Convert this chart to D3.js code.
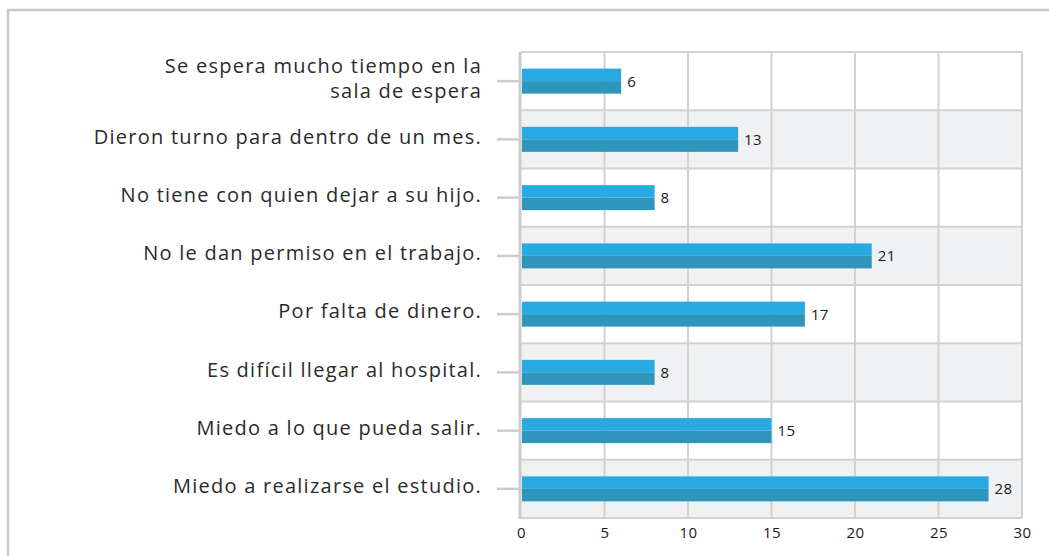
<!DOCTYPE html>
<html>
<head>
<meta charset="utf-8">
<script src="https://cdn.jsdelivr.net/npm/d3@7"></script>
<style>
  html, body { margin: 0; padding: 0; background: #fff; }
  svg { display: block; font-family: "Open Sans", sans-serif; }
</style>
</head>
<body>
<script>
"use strict";

const categories = [
  ["Se espera mucho tiempo en la", "sala de espera"],
  ["Dieron turno para dentro de un mes."],
  ["No tiene con quien dejar a su hijo."],
  ["No le dan permiso en el trabajo."],
  ["Por falta de dinero."],
  ["Es difícil llegar al hospital."],
  ["Miedo a lo que pueda salir."],
  ["Miedo a realizarse el estudio."]
];
const values = [6, 13, 8, 21, 17, 8, 15, 28];
const xTicks = [0, 5, 10, 15, 20, 25, 30];

const m = { width: 1049, height: 556, left: 521, right: 1022, top: 52, bottom: 518 };

const svg = d3
  .select("body")
  .append("svg")
  .attr("width", m.width)
  .attr("height", m.height);

// outer frame (only top and left edges visible)
svg.append("rect")
  .attr("x", 8)
  .attr("y", 10)
  .attr("width", 1100)
  .attr("height", 600)
  .attr("fill", "none")
  .attr("stroke", "#c9c9c9")
  .attr("stroke-width", 2.5);

const x = d3.scaleLinear().domain([0, 30]).range([m.left, m.right]);
const y = d3.scaleBand().domain(d3.range(categories.length)).range([m.top, m.bottom]);

const g = svg.append("g");

// alternating bands
g.selectAll("rect.band")
  .data(d3.range(categories.length))
  .enter()
  .append("rect")
  .attr("class", "band")
  .attr("x", m.left)
  .attr("y", d => y(d))
  .attr("width", m.right - m.left)
  .attr("height", y.bandwidth())
  .attr("fill", d => (d % 2 ? "#f0f1f3" : "#fff"));

// horizontal grid lines
const hLines = d3.range(categories.length + 1).map(i => m.top + i * y.step());
g.selectAll("line.h")
  .data(hLines)
  .enter()
  .append("line")
  .attr("x1", m.left)
  .attr("x2", m.right)
  .attr("y1", d => d)
  .attr("y2", d => d)
  .attr("stroke", "#d2d2d2")
  .attr("stroke-width", 2);

// vertical grid lines
g.selectAll("line.v")
  .data(xTicks.slice(1))
  .enter()
  .append("line")
  .attr("x1", d => x(d))
  .attr("x2", d => x(d))
  .attr("y1", m.top)
  .attr("y2", m.bottom)
  .attr("stroke", "#d2d2d2")
  .attr("stroke-width", 2);

// left axis line and tick marks
const yAxis = d3.axisLeft(y).tickSize(23).tickFormat("");
const ya = svg.append("g")
  .attr("transform", `translate(${m.left - 1},0)`)
  .call(yAxis);
ya.select(".domain").remove();
ya.selectAll(".tick line")
  .attr("stroke", "#cccccc")
  .attr("stroke-width", 2.5);
svg.append("line")
  .attr("x1", m.left - 1)
  .attr("x2", m.left - 1)
  .attr("y1", m.top)
  .attr("y2", m.bottom + 1)
  .attr("stroke", "#cccccc")
  .attr("stroke-width", 3);

// bars: lighter top half, darker bottom half
const barH = 25;
const bars = svg.append("g")
  .selectAll("g")
  .data(values)
  .enter()
  .append("g")
  .attr("transform", (d, i) => `translate(0,${y(i) + y.bandwidth() / 2 - barH / 2})`);

bars.append("rect")
  .attr("x", x(0) + 1)
  .attr("y", 0)
  .attr("width", d => x(d) - x(0) - 1)
  .attr("height", barH / 2)
  .attr("fill", "#28a9e1");

bars.append("rect")
  .attr("x", x(0) + 1)
  .attr("y", barH / 2)
  .attr("width", d => x(d) - x(0) - 1)
  .attr("height", barH / 2)
  .attr("fill", "#2e95bd");

bars.append("text")
  .attr("x", d => x(d) + 6)
  .attr("y", barH / 2)
  .attr("dy", "0.36em")
  .attr("font-size", 15)
  .attr("letter-spacing", 0.4)
  .attr("fill", "#1a1a1a")
  .text(d => d);

// category labels
const labels = svg.append("g")
  .selectAll("text")
  .data(categories)
  .enter()
  .append("text")
  .attr("x", 482)
  .attr("y", (d, i) => y(i) + y.bandwidth() / 2 - 3)
  .attr("text-anchor", "end")
  .attr("font-size", 20)
  .attr("letter-spacing", 1.25)
  .attr("fill", "#2b2b2b");

labels.selectAll("tspan")
  .data(d => d.map((t, j) => ({ t, j, n: d.length })))
  .enter()
  .append("tspan")
  .attr("x", 482)
  .attr("dy", d => (d.j === 0 ? (0.36 - (d.n - 1) * 0.63) + "em" : "1.26em"))
  .text(d => d.t);

// x axis labels
const xAxis = d3.axisBottom(x).tickValues(xTicks).tickSize(0).tickPadding(9);
const xa = svg.append("g")
  .attr("transform", `translate(0,${m.bottom})`)
  .call(xAxis);
xa.select(".domain").remove();
xa.selectAll("text")
  .attr("font-family", "Open Sans, sans-serif")
  .attr("font-size", 15)
  .attr("letter-spacing", 0.4)
  .attr("fill", "#1a1a1a");
</script>
</body>
</html>
